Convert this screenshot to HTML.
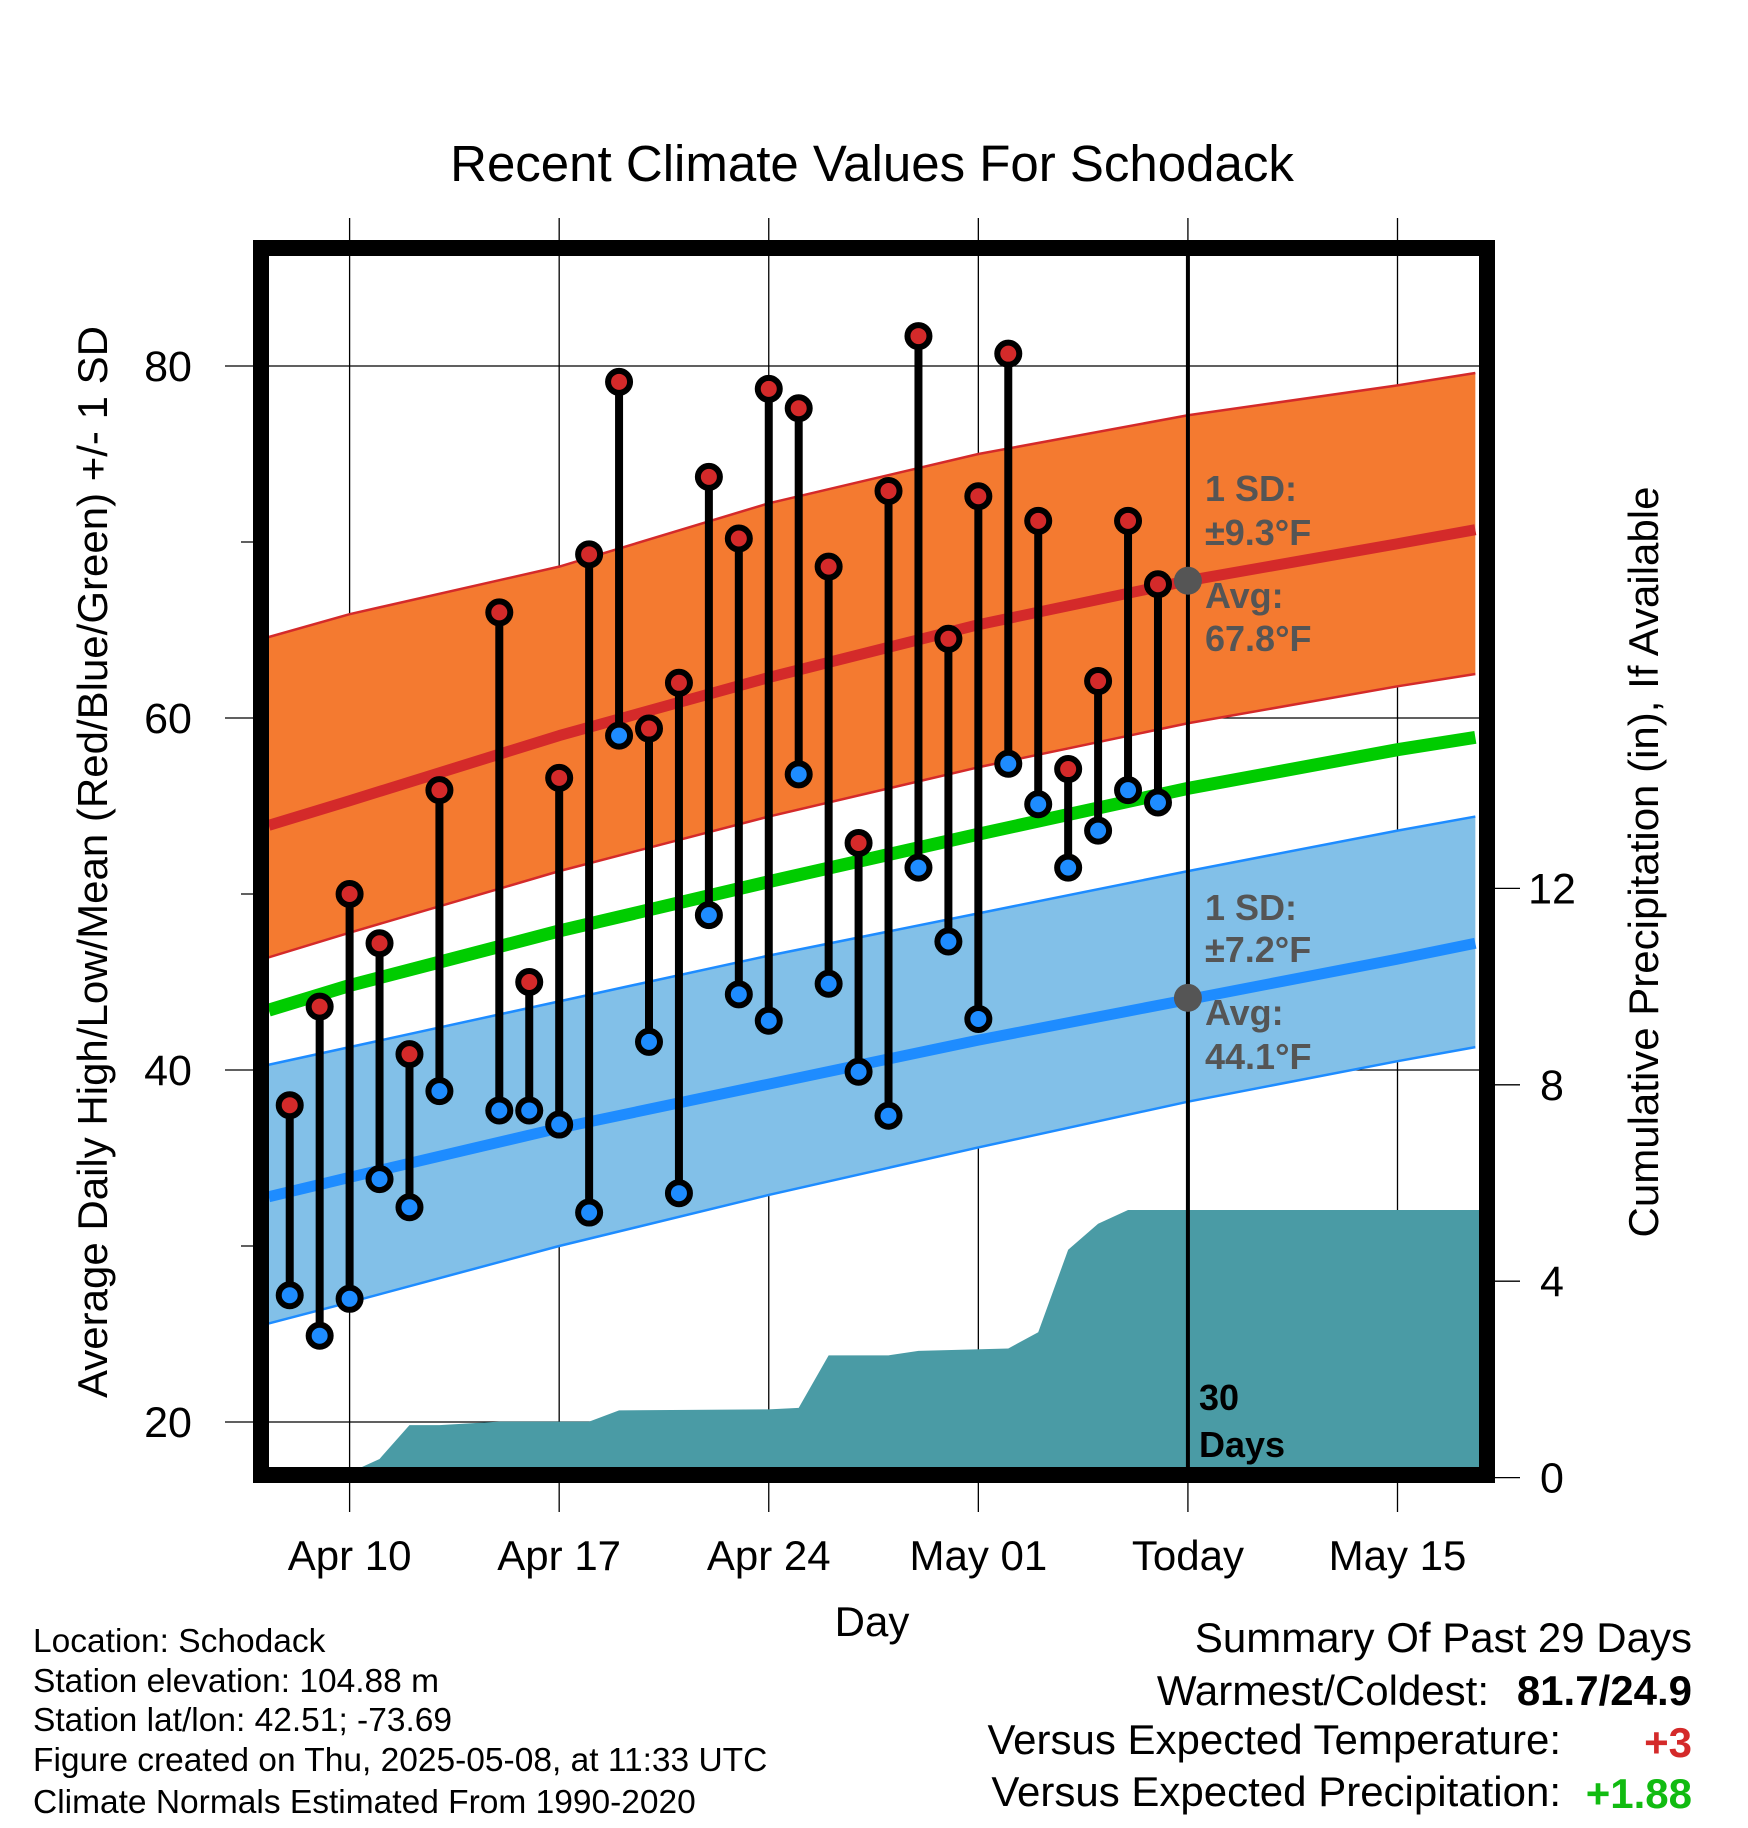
<!DOCTYPE html>
<html><head><meta charset="utf-8"><style>
html,body{margin:0;padding:0;background:#fff}
svg{display:block;font-family:"Liberation Sans",Arial,sans-serif}
</style></head><body>
<svg id="chart" width="1748" height="1828" viewBox="0 0 1748 1828" xmlns="http://www.w3.org/2000/svg">
<defs><clipPath id="clip"><rect x="269" y="256" width="1210" height="1211"/></clipPath></defs>
<text x="872" y="181" font-size="51" text-anchor="middle">Recent Climate Values For Schodack</text>
<g id="grid"></g>
<g id="bands" clip-path="url(#clip)"></g>
<g id="precip" clip-path="url(#clip)"></g>
<g id="marks"></g>
<g id="axes"></g>
<text x="872" y="1636" font-size="42" text-anchor="middle">Day</text>
<text transform="translate(107,862) rotate(-90)" font-size="42" text-anchor="middle">Average Daily High/Low/Mean (Red/Blue/Green) +/- 1 SD</text>
<text transform="translate(1658,862) rotate(-90)" font-size="42" text-anchor="middle">Cumulative Precipitation (in), If Available</text>
<g font-size="33.5">
<text x="33" y="1652">Location: Schodack</text>
<text x="33" y="1692">Station elevation: 104.88 m</text>
<text x="33" y="1731">Station lat/lon: 42.51; -73.69</text>
<text x="33" y="1771">Figure created on Thu, 2025-05-08, at 11:33 UTC</text>
<text x="33" y="1813">Climate Normals Estimated From 1990-2020</text>
</g>
<g font-size="42">
<text x="1692" y="1652" text-anchor="end">Summary Of Past 29 Days</text>
<text x="1489" y="1705" text-anchor="end">Warmest/Coldest:</text>
<text x="1692" y="1705" text-anchor="end" font-weight="bold">81.7/24.9</text>
<text x="1561" y="1754" text-anchor="end">Versus Expected Temperature:</text>
<text x="1692" y="1757" text-anchor="end" font-weight="bold" fill="#d42a2a">+3</text>
<text x="1561" y="1806" text-anchor="end">Versus Expected Precipitation:</text>
<text x="1692" y="1808" text-anchor="end" font-weight="bold" fill="#11bb11">+1.88</text>
</g>
</svg>
<script>
// Data (day index: 0 = Apr 10)
const days = [-2,-1,0,1,2,3,5,6,7,8,9,10,11,12,13,14,15,16,17,18,19,20,21,22,23,24,25,26,27];
const highs = [38,43.6,50,47.2,40.9,55.9,66,45,56.6,69.3,79.1,59.4,62,73.7,70.2,78.7,77.6,68.6,52.9,72.9,81.7,64.5,72.6,80.7,71.2,57.1,62.1,71.2,67.6];
const lows = [27.2,24.9,27,33.8,32.2,38.8,37.7,37.7,36.9,31.9,59,41.6,33,48.8,44.3,42.8,56.8,44.9,39.9,37.4,51.5,47.3,42.9,57.4,55.1,51.5,53.6,55.9,55.2];
const normDays = [-2.7,0,7,14,21,28,35,37.6];
const hiUpper = [64.6,65.9,68.6,72.2,75.0,77.2,78.9,79.6];
const hiMean = [53.9,55.3,59.0,62.3,65.3,67.8,69.9,70.7];
const hiLower = [46.4,47.8,51.3,54.4,57.2,59.7,61.8,62.5];
const meanNorm = [43.4,44.8,47.9,50.7,53.4,56.0,58.2,58.9];
const loUpper = [40.3,41.3,43.9,46.5,48.9,51.3,53.6,54.4];
const loMean = [32.8,33.9,36.7,39.2,41.7,44.0,46.3,47.2];
const loLower = [25.6,26.8,30.0,32.9,35.6,38.2,40.5,41.3];
const precipDays = [0,1,2,3,5,8,9,14,15,16,18,19,22,23,24,25,26,27,38];
const precipVals = [0.1,0.38,1.07,1.07,1.14,1.14,1.37,1.39,1.42,2.49,2.49,2.58,2.63,2.96,4.64,5.17,5.45,5.45,5.45];
const xTickDays = [0,7,14,21,28,35];
const xTickLabels = ["Apr 10","Apr 17","Apr 24","May 01","Today","May 15"];
const yTicks = [20,40,60,80];
const yMinor = [30,50,70];
const y2Ticks = [0,4,8,12];

const X = d => 349.6 + d*29.94;
const Y = t => 1422 - (t-20)*17.6;
const Y2 = p => 1477.6 - p*49.1;
const NS = "http://www.w3.org/2000/svg";
function mk(tag, parent, attrs){const e=document.createElementNS(NS,tag);for(const k in attrs)e.setAttribute(k,attrs[k]);parent.appendChild(e);return e;}
const grid=document.getElementById('grid'), bands=document.getElementById('bands'), precip=document.getElementById('precip'), marks=document.getElementById('marks'), axes=document.getElementById('axes');
const L=269,R=1479,T=256,B=1467;

xTickDays.forEach((d,i)=>{
  const ln=mk('line',grid,{x1:X(d),x2:X(d),y1:218,y2:1512,stroke:'#000','stroke-width':1.3});
  
  
  const t=mk('text',axes,{x:X(d),y:1570,'font-size':42,'text-anchor':'middle'});
  t.textContent=xTickLabels[i];
  
  
});
yTicks.forEach(v=>{
  const ln=mk('line',grid,{x1:225,x2:R,y1:Y(v),y2:Y(v),stroke:'#000','stroke-width':1.3});
  
  
  const t=mk('text',axes,{x:168,y:Y(v)+15,'font-size':43,'text-anchor':'middle'});
  t.textContent=v;
  
  
});
yMinor.forEach(v=>{
  const ln=mk('line',axes,{x1:241,x2:261,y1:Y(v),y2:Y(v),stroke:'#000','stroke-width':1.3});
  
  
});
y2Ticks.forEach(v=>{
  const ln=mk('line',axes,{x1:1487,x2:1520,y1:Y2(v),y2:Y2(v),stroke:'#000','stroke-width':1.3});
  
  
  const t=mk('text',axes,{x:1552,y:Y2(v)+15,'font-size':43,'text-anchor':'middle'});
  t.textContent=v;
  
  
});

function pts(arr){return normDays.map((d,i)=>X(d)+','+Y(arr[i]));}
function band(up,lo,fill,name){
  const p=mk('polygon',bands,{points:pts(up).concat(pts(lo).reverse()).join(' '),fill:fill});
  
  
}
function line(arr,col,w,name){
  const p=mk('polyline',bands,{points:pts(arr).join(' '),fill:'none',stroke:col,'stroke-width':w,'stroke-linejoin':'round'});
  
  
}
band(hiUpper,hiLower,'#f47a30','high-sd-band');
line(hiUpper,'#d42a2a',2.5,'high-upper-edge');
line(hiLower,'#d42a2a',2.5,'high-lower-edge');
line(hiMean,'#d42a2a',11,'normal-high-line');
band(loUpper,loLower,'#82c0e8','low-sd-band');
line(loUpper,'#1e8cff',2.5,'low-upper-edge');
line(loLower,'#1e8cff',2.5,'low-lower-edge');
line(loMean,'#1e8cff',11,'normal-low-line');
line(meanNorm,'#00cc00',13,'normal-mean-line');

let pp=precipDays.map((d,i)=>X(d)+','+Y2(precipVals[i]));
pp.push(X(38)+','+B, X(0)+','+B);
const pa=mk('polygon',precip,{points:pp.join(' '),fill:'#4a9ba5'});



const tl=mk('line',marks,{x1:X(28),x2:X(28),y1:T,y2:B,stroke:'#000','stroke-width':4});



days.forEach((d,i)=>{
  const s=mk('line',marks,{x1:X(d),x2:X(d),y1:Y(highs[i]),y2:Y(lows[i]),stroke:'#000','stroke-width':8});
  
  
});
days.forEach((d,i)=>{
  const h=mk('circle',marks,{cx:X(d),cy:Y(highs[i]),r:11,fill:'#d42a2a',stroke:'#000','stroke-width':6});
  
  
  const l=mk('circle',marks,{cx:X(d),cy:Y(lows[i]),r:11,fill:'#1e8cff',stroke:'#000','stroke-width':6});
  
  
});
[67.8,44.1].forEach(v=>{
  const c=mk('circle',marks,{cx:X(28),cy:Y(v),r:14,fill:'#555'});
  
  
});
function txt(x,y,s,col,name){
  const t=mk('text',marks,{x:x,y:y,'font-size':36,'font-weight':'bold',fill:col});
  t.textContent=s;
  
  
}
txt(1205,501,'1 SD:','#555','high-sd-label');
txt(1205,545,'±9.3°F','#555','high-sd-value');
txt(1205,608,'Avg:','#555','high-avg-label');
txt(1205,651,'67.8°F','#555','high-avg-value');
txt(1205,920,'1 SD:','#555','low-sd-label');
txt(1205,962,'±7.2°F','#555','low-sd-value');
txt(1205,1025,'Avg:','#555','low-avg-label');
txt(1205,1069,'44.1°F','#555','low-avg-value');
txt(1199,1410,'30','#000','days-count');
txt(1199,1457,'Days','#000','days-label');

const fr=mk('rect',axes,{x:261,y:248,width:1226,height:1227,fill:'none',stroke:'#000','stroke-width':16});


</script>
</body></html>
